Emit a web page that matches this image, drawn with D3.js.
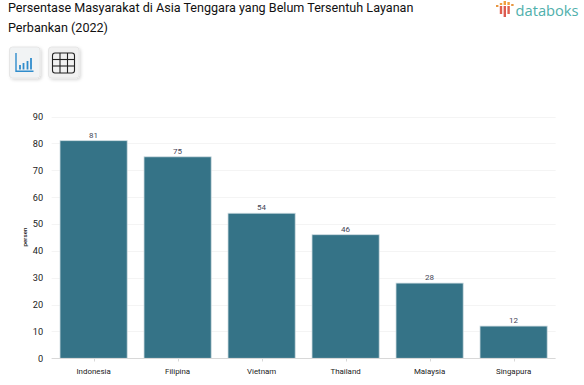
<!DOCTYPE html>
<html><head><meta charset="utf-8">
<script src="https://cdnjs.cloudflare.com/ajax/libs/d3/7.8.5/d3.min.js"></script>
<style>html,body{margin:0;padding:0;background:#fff;overflow:hidden}svg{display:block}</style>
</head><body><svg id="c" width="584" height="385"></svg>
<script>
const categories=["Indonesia","Filipina","Vietnam","Thailand","Malaysia","Singapura"];
const values=[81,75,54,46,28,12];
const yTicks=[0,10,20,30,40,50,60,70,80,90];
const titleLines=["Persentase Masyarakat di Asia Tenggara yang Belum Tersentuh Layanan","Perbankan (2022)"];
const yTitle="persen";
const brand="databoks";
const logoBars=[[0,5,7,"#e8963f"],[1,3,5,"#f0a040"],[1,6,14,"#e0604f"],[2,1,5,"#f0a040"],[2,6,17,"#dc5a50"],[3,2,5,"#f0a040"],[3,6,14,"#e0604f"],[4,4,6,"#e8963f"]];

const svg=d3.select("#c");
const font="Roboto, sans-serif";
const x=d3.scaleBand().domain(categories).range([51.6,555.6]).paddingInner(0.2).paddingOuter(0.1);
const y=d3.scaleLinear().domain([0,90]).range([358.3,116.5]);

svg.selectAll("text.title").data(titleLines).join("text").attr("class","title")
 .attr("x",8).attr("y",(d,i)=>11.5+i*20).attr("font-family",font).attr("font-size",12.6).attr("fill","#111").text(d=>d);

// logo
const lg=svg.append("g").attr("transform","translate(496,0)");
lg.selectAll("rect").data(logoBars).join("rect").attr("x",d=>d[0]*3.8).attr("y",d=>d[1]).attr("width",2.4).attr("height",d=>d[2]-d[1]).attr("fill",d=>d[3]);
svg.append("text").attr("x",515.5).attr("y",15.5).attr("font-family","'Open Sans',sans-serif").attr("font-size",14.7).attr("font-weight",500).attr("fill","#4fb0ac").text(brand);

// buttons
const defs=svg.append("defs");
const f=defs.append("filter").attr("id","sh").attr("x","-20%").attr("y","-20%").attr("width","150%").attr("height","150%");
f.append("feDropShadow").attr("dx",1.5).attr("dy",1.5).attr("stdDeviation",1.5).attr("flood-color","#000").attr("flood-opacity",0.15);
[[9.5,"#f1f3f4"],[48.5,"#f1f1f1"]].forEach(([bx,fc])=>svg.append("rect").attr("x",bx).attr("y",47).attr("width",30.5).attr("height",31).attr("rx",3).attr("fill",fc).attr("stroke","#e6e6e6").attr("filter","url(#sh)"));
const ic=svg.append("g").attr("stroke","#2f8ccc").attr("fill","none");
ic.append("path").attr("stroke-width",1.4).attr("d","M16 53V71.3H33.5");
[[20,65],[23.5,63],[27.5,61],[31,58]].forEach(([a,b])=>ic.append("path").attr("stroke-width",1.8).attr("d",`M${a} 69.5V${b}`));
const gr=svg.append("g").attr("stroke","#222").attr("fill","none").attr("stroke-width",1.1);
gr.append("rect").attr("x",52.5).attr("y",53).attr("width",22).attr("height",20).attr("rx",2.5);
[60,67.5].forEach(v=>gr.append("path").attr("d",`M${v} 53V73`));
[59.5,66].forEach(v=>gr.append("path").attr("d",`M53 ${v}H74.5`));

// grid
svg.append("g").selectAll("line").data(yTicks.filter(d=>d>0)).join("line")
 .attr("x1",51.6).attr("x2",555.6).attr("y1",d=>Math.round(y(d))+.5).attr("y2",d=>Math.round(y(d))+.5).attr("stroke","#f4f4f4");

// y axis
svg.append("g").selectAll("text").data(yTicks).join("text").attr("x",43.2).attr("y",d=>y(d)+3.4)
 .attr("text-anchor","end").attr("font-family",font).attr("font-size",9.2).attr("fill","#222").text(d=>d);
svg.append("text").attr("transform","translate(26.5,237) rotate(-90)").attr("text-anchor","middle")
 .attr("font-family",font).attr("font-size",6.2).attr("font-weight",500).attr("fill","#222").text(yTitle);

// bars
svg.append("g").selectAll("rect").data(values).join("rect")
 .attr("x",(d,i)=>x(categories[i])).attr("y",d=>y(d)).attr("width",x.bandwidth()).attr("height",d=>y(0)-y(d))
 .attr("fill","#357387").attr("stroke","#cfdde2").attr("stroke-width",.8);

// value labels
svg.append("g").selectAll("text").data(values).join("text")
 .attr("x",(d,i)=>x(categories[i])+x.bandwidth()/2).attr("y",d=>y(d)-3)
 .attr("text-anchor","middle").attr("font-family",font).attr("font-size",8).attr("fill","#444455").text(d=>d);

// x axis
svg.append("line").attr("x1",51.6).attr("x2",555.6).attr("y1",358.5).attr("y2",358.5).attr("stroke","#d8d8d8");
svg.append("g").selectAll("line").data(categories).join("line")
 .attr("x1",d=>Math.round(x(d)+x.bandwidth()/2)+.5).attr("x2",d=>Math.round(x(d)+x.bandwidth()/2)+.5).attr("y1",358).attr("y2",361.5).attr("stroke","#d8d8d8");
svg.append("g").selectAll("text").data(categories).join("text")
 .attr("x",d=>x(d)+x.bandwidth()/2).attr("y",374.3).attr("text-anchor","middle").attr("font-family",font).attr("font-size",7.9).attr("fill","#222").text(d=>d);
</script></body></html>
